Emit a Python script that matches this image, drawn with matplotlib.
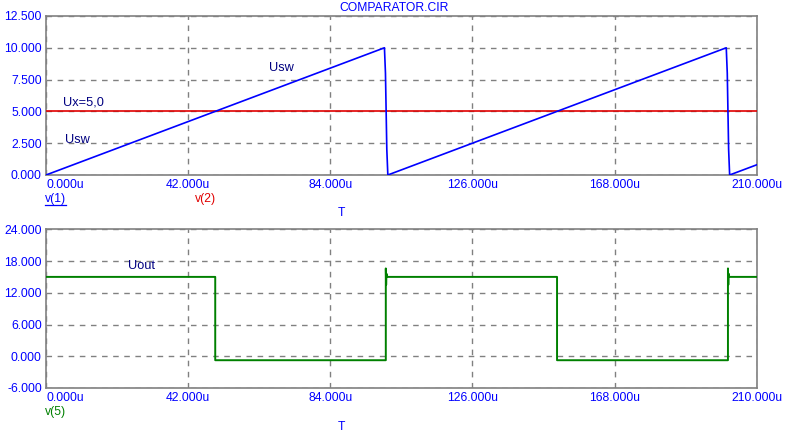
import matplotlib
matplotlib.use("Agg")
from matplotlib import pyplot as plt
from matplotlib.lines import Line2D

plt.rcParams['font.family'] = ['Liberation Sans', 'DejaVu Sans']

# Sawtooth v(1), time in us
t_sw = [0.0, 100.0, 100.3, 100.5, 100.7, 101.0, 201.0, 201.3, 201.5, 201.7, 202.0, 210.0]
v_sw = [0.0, 10.0, 8.0, 5.0, 2.0, 0.0, 10.0, 8.0, 5.0, 2.0, 0.0, 0.8]

# Reference level v(2)
t_ref = [0.0, 210.0]
v_ref = [5.0, 5.0]

# Comparator output v(5)
t_out = [0.0, 50.0, 50.0, 100.4, 100.4, 100.5, 100.6, 100.7, 151.0, 151.0, 201.5, 201.5, 201.6, 201.7, 201.8, 210.0]
v_out = [15.0, 15.0, -0.75, -0.75, 16.6, 13.5, 15.6, 15.0, 15.0, -0.75, -0.75, 16.6, 13.5, 15.6, 15.0, 15.0]

x_ticks = [0, 42, 84, 126, 168, 210]
y1_ticks = [0, 2.5, 5, 7.5, 10, 12.5]
y2_ticks = [-6, 0, 6, 12, 18, 24]

BLUE = "#0000ff"
NAVY = "#000080"
GRAY = "#808080"
FS = 8.7

fig = plt.figure(figsize=(7.88, 4.40), dpi=100)
ax1 = fig.add_axes([0.0584, 0.6023, 0.9019, 0.3614])
ax2 = fig.add_axes([0.0584, 0.1182, 0.9019, 0.3607])


def style(ax, yticks):
    ax.set_xlim(0, 210)
    ax.set_ylim(yticks[0], yticks[-1])
    ax.set_xticks(x_ticks)
    ax.set_yticks(yticks)
    ax.set_xticklabels(["%.3fu" % v for v in x_ticks], color=BLUE, fontsize=FS)
    ax.set_yticklabels(["%.3f" % v for v in yticks], color=BLUE, fontsize=FS)
    ax.get_xticklabels()[0].set_horizontalalignment("left")
    ax.tick_params(length=0, pad=3)
    ax.grid(True, color=GRAY, linestyle=(0, (4, 4)), linewidth=1)
    for s in ax.spines.values():
        s.set_color(GRAY)
        s.set_linewidth(1.2)


style(ax1, y1_ticks)
style(ax2, y2_ticks)

ax1.plot(t_ref, v_ref, color="#e00000", linewidth=1.2, zorder=3)
ax1.plot(t_sw, v_sw, color=BLUE, linewidth=1.2, zorder=4)
ax2.plot(t_out, v_out, color="#008000", linewidth=1.4, zorder=4)

ax1.text(65.9, 8.41, "Usw", color=NAVY, fontsize=FS + 0.5, ha="left", va="center")
ax1.text(5.0, 5.66, "Ux=5,0", color=NAVY, fontsize=FS + 0.5, ha="left", va="center")
ax1.text(5.6, 2.75, "Usw", color=NAVY, fontsize=FS + 0.5, ha="left", va="center")
ax2.text(24.2, 17.06, "Uout", color=NAVY, fontsize=FS + 0.5, ha="left", va="center")

fig.text(0.5, 0.982, "COMPARATOR.CIR", color=BLUE, fontsize=FS, ha="center", va="center")
fig.text(45 / 788, 1 - 199 / 440, "v(1)", color=BLUE, fontsize=FS, ha="left", va="center")
# underline of the active trace name
fig.add_artist(Line2D([45 / 788, 66 / 788], [1 - 205 / 440, 1 - 205 / 440],
                      color=BLUE, linewidth=0.9, transform=fig.transFigure))
fig.text(195 / 788, 1 - 199 / 440, "v(2)", color="#e00000", fontsize=FS, ha="left", va="center")
fig.text(341 / 788, 1 - 213 / 440, "T", color=BLUE, fontsize=FS, ha="center", va="center")
fig.text(45 / 788, 1 - 412 / 440, "v(5)", color="#008000", fontsize=FS, ha="left", va="center")
fig.text(341 / 788, 1 - 427 / 440, "T", color=BLUE, fontsize=FS, ha="center", va="center")

fig.savefig("out.png", dpi=100)
